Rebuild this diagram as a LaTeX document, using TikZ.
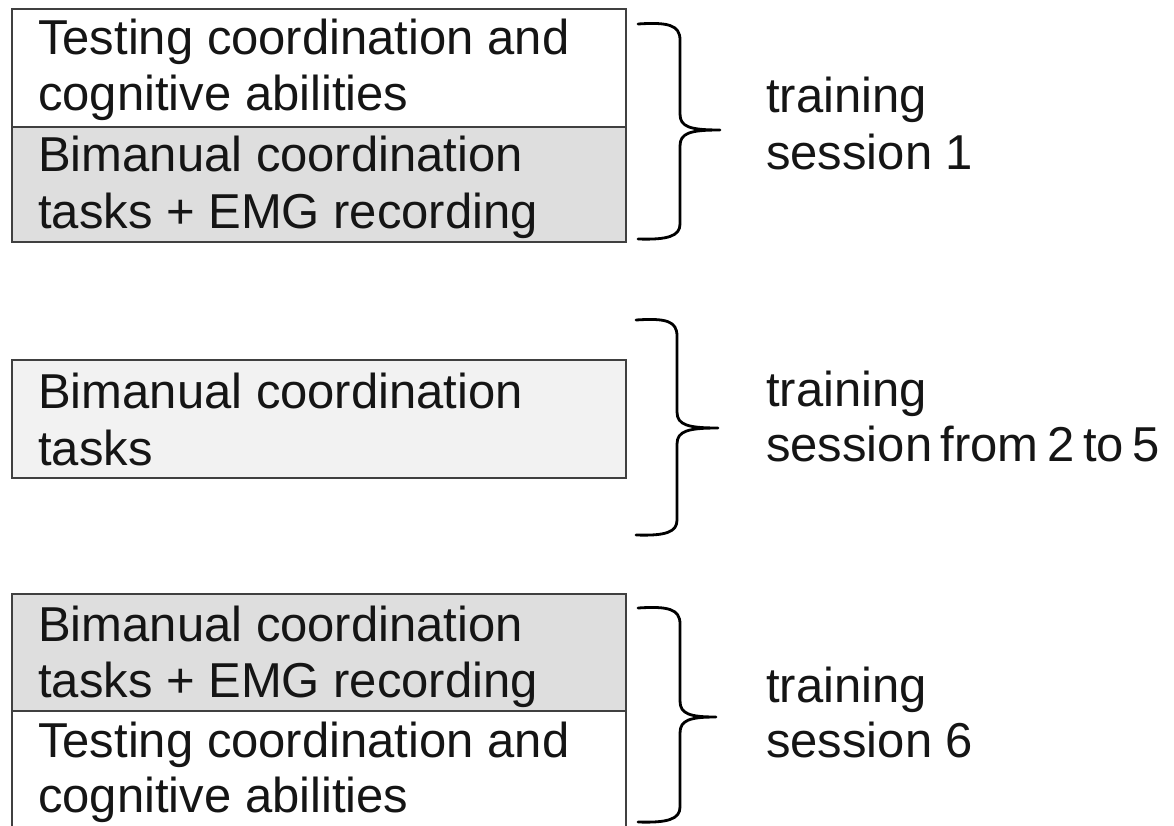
\documentclass[tikz,border=0pt]{standalone}
\usepackage{fontspec}
\setmainfont{Liberation Sans}
\definecolor{boxgray}{HTML}{DEDEDE}
\definecolor{boxlight}{HTML}{F2F2F2}
\definecolor{edge}{HTML}{404040}
\definecolor{ink}{HTML}{151515}
\begin{document}
\begin{tikzpicture}[x=1pt,y=-1pt,
  cell/.style={draw=edge,line width=1.4pt},
  txt/.style={anchor=base west,inner sep=0pt,text=ink,font=\fontsize{49}{57}\selectfont},
  brace/.style={draw=black,line width=2.8pt,line cap=round,line join=round}]
\useasboundingbox (0,0) rectangle (1174,826);
% session 1 boxes
\path[cell,fill=white] (12,9) rectangle (626,127);
\path[cell,fill=boxgray] (12,127) rectangle (626,242);
\node[txt] (t1a) at (38,55) {Testing coordination and};
\node[txt] (t1b) at (38,111) {cognitive abilities};
\node[txt] (t1c) at (38,172) {Bimanual coordination};
\node[txt] (t1d) at (38,229) {tasks + EMG recording};
% session 2-5 box
\path[cell,fill=boxlight] (12,360) rectangle (626,478);
\node[txt] (t2a) at (38,408) {Bimanual coordination};
\node[txt] (t2b) at (38,465) {tasks};
% session 6 boxes
\path[cell,fill=boxgray] (12,594) rectangle (626,711);
\fill[white] (13,712) rectangle (625,826);
\draw[cell] (12,711) -- (626,711) (12,711) -- (12,830) (626,711) -- (626,830);
\node[txt] (t3a) at (38,641) {Bimanual coordination};
\node[txt] (t3b) at (38,697) {tasks + EMG recording};
\node[txt] (t3c) at (38,757) {Testing coordination and};
\node[txt] (t3d) at (38,812) {cognitive abilities};
% braces
\draw[brace] (638,24) .. controls (668,22) and (680,25) .. (680,40) -- (680,114)
  .. controls (680,127) and (690,130) .. (720,130)
  .. controls (690,130) and (680,133) .. (680,146) -- (680,224)
  .. controls (680,236) and (668,240) .. (638,239);
\draw[brace] (636,320) .. controls (666,318) and (677,321) .. (677,336) -- (677,412)
  .. controls (677,425) and (688,428) .. (718,428)
  .. controls (688,428) and (677,431) .. (677,444) -- (677,520)
  .. controls (677,532) and (666,536) .. (636,535);
\draw[brace] (638,608) .. controls (668,606) and (680,609) .. (680,624) -- (680,701)
  .. controls (680,714) and (690,717) .. (716,717)
  .. controls (690,717) and (680,720) .. (680,733) -- (680,807)
  .. controls (680,819) and (668,823) .. (638,822);
% labels
\node[txt] (l1a) at (766,113) {training};
\node[txt] (l1b) at (766,170) {session 1};
\node[txt] (l2a) at (766,406) {training};
\node[txt] (l2b) at (766,461) {session\hspace{8.5pt}from\hspace{8.5pt}2\hspace{8.5pt}to\hspace{8.5pt}5};
\node[txt] (l3a) at (766,702) {training};
\node[txt] (l3b) at (766,757) {session 6};
\end{tikzpicture}
\end{document}
